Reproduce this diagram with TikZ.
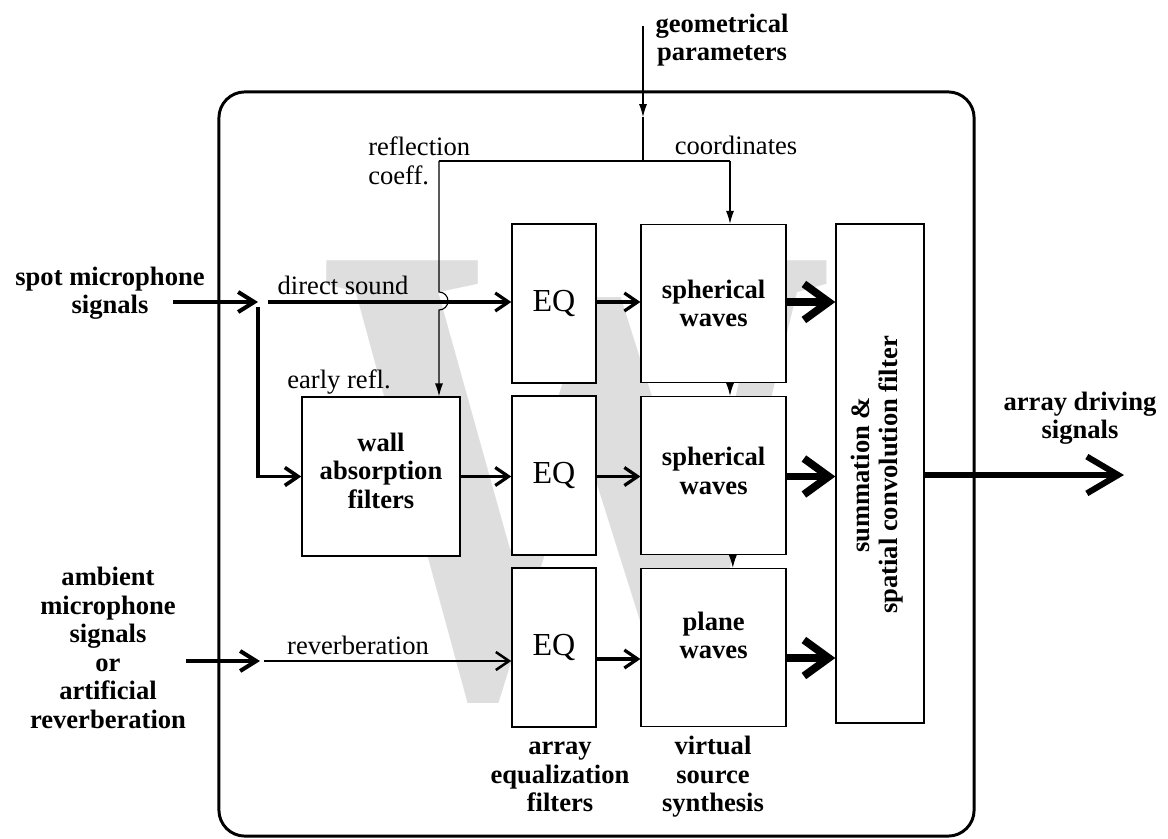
\documentclass[tikz,border=0pt]{standalone}
\usepackage{fontspec}
\setmainfont{Liberation Serif}
\usetikzlibrary{arrows.meta,positioning}

\begin{document}
\begin{tikzpicture}[x=0.025cm, y=-0.025cm]
\tikzstyle{box}=[draw, fill=white, line width=1pt, inner sep=0pt]
\tikzstyle{eqbox}=[box, minimum width=2.1cm, minimum height=3.975cm, font=\fontsize{22.8}{24}\selectfont, node distance=4.3cm]
\tikzstyle{wavebox}=[box, minimum width=3.625cm, minimum height=3.95cm, node distance=4.3cm]
\tikzstyle{txt}=[inner sep=0pt, font=\fontsize{18.9}{20.3}\selectfont]
\tikzstyle{btxt}=[inner sep=0pt, align=center, font=\fontsize{18.9}{20.3}\selectfont\bfseries]
\tikzstyle{ctrl}=[line width=0.8pt, -{Latex[length=0.32cm, width=0.2cm]}]
\tikzstyle{sig}=[line width=2.3pt, -{Straight Barb[length=0.33cm, width=0.45cm]}]
\tikzstyle{fat}=[line width=2.9pt, -{Straight Barb[length=0.4cm, width=0.5cm]}]
\tikzstyle{heavy}=[line width=5.5pt, -{Straight Barb[length=0.62cm, width=0.9cm]}]
\tikzstyle{drive}=[line width=4.3pt, -{Straight Barb[length=0.78cm, width=0.92cm]}]

\useasboundingbox (0,0) rectangle (1168,839);
\node[text=black!13, font=\fontsize{470}{470}\selectfont\bfseries, xscale=0.78, inner sep=0pt] (wmark) at (577,482) {W};
\node[draw, line width=2.1pt, rounded corners=0.65cm, minimum width=18.875cm, minimum height=18.6cm] (frame) at (596.5,464) {};

\node[eqbox] (EQa) at (554,303.5) {EQ};
\node[eqbox, below of=EQa] (EQb) {EQ};
\node[eqbox, below of=EQb] (EQc) {EQ};
\node[wavebox, right of=EQa, node distance=3.99cm] (SWa) {};
\node[wavebox, below of=SWa] (SWb) {};
\node[wavebox, below of=SWb] (PW) {};
\node[btxt] (SWatxt) at (SWa) {spherical\\waves};
\node[btxt] (SWbtxt) at ([yshift=0.12cm]SWb) {spherical\\waves};
\node[btxt] (PWtxt) at ([yshift=0.3cm]PW) {plane\\waves};
\node[box, minimum width=3.95cm, minimum height=3.975cm] (WA) at (381,476.5) {};
\node[btxt] (WAtxt) at ([yshift=0.15cm]WA) {wall\\absorption\\filters};
\node[box, minimum width=2.2cm, minimum height=12.475cm] (SC) at (880,473.5) {};
\node[btxt, rotate=90] (SClbl) at (877,475) {summation \&\\spatial convolution filter};

\node[btxt] (geo) at (722,40) {geometrical\\parameters};
\node[btxt] (spot) at (110,293) {spot microphone\\signals};
\node[btxt] (amb) at (108,648) {ambient\\microphone\\signals\\or\\artificial\\reverberation};
\node[btxt] (drv) at (1080,418) {array driving\\signals};
\node[btxt] (eqcap) at (560,777) {array\\equalization\\filters};
\node[btxt] (vscap) at (713,777) {virtual\\source\\synthesis};
\node[txt, align=left, anchor=west] (rcoef) at (368,161) {reflection\\coeff.};
\node[txt] (coord) at (736,145) {coordinates};
\node[txt] (dsnd) at (343,285) {direct sound};
\node[txt] (erefl) at (339,382) {early refl.};
\node[txt] (rev) at (358,645) {reverberation};

\coordinate (gtop) at (643,26);
\coordinate (gtip) at (643,117);
\coordinate (split) at (643,161);
\coordinate (rc) at (439,161);
\coordinate (co) at (730,161);
\coordinate (hop) at (439,292);
\coordinate (spotin) at (173,302);
\coordinate (fork) at (258,302);
\coordinate (ds) at (268,302);
\coordinate (branch) at (258,307);
\coordinate (ambin) at (186,661);
\coordinate (revin) at (260,661);
\coordinate (rv) at (264,661);
\coordinate (outtip) at (1124,475);

\draw[ctrl] (gtop) -- (gtip);
\draw[line width=0.8pt] (gtip) -- (split);
\draw[line width=0.8pt] (rc) -- (co);
\draw[ctrl] (co) -- (co |- SWa.north);
\draw[ctrl] (rc) -- (hop) arc[start angle=90, end angle=-90, radius=0.225cm] -- (rc |- WA.north);
\draw[ctrl] (SWa.south -| co) -- (SWb.north -| co);
\draw[ctrl] ([xshift=0.07cm]SWb.south -| co) -- ([xshift=0.07cm]PW.north -| co);

\draw[fat] (spotin) -- (fork);
\draw[sig] (ds) -- (EQa.west |- ds);
\draw[sig, line width=2.6pt] (branch) |- (WA.west);
\draw[sig] (WA.east) -- (EQb.west |- WA.east);
\draw[fat] (ambin) -- (revin);
\draw[sig, line width=1.8pt] (rv) -- (EQc.west |- rv);

\draw[sig] (EQa.east |- ds) -- (SWa.west |- ds);
\draw[sig] (EQb.east |- WA.east) -- (SWb.west |- WA.east);
\draw[sig] (EQc.east |- 0,659) -- (PW.west |- 0,659);

\draw[heavy] (SWa.east |- ds) -- (SC.west |- ds);
\draw[heavy] (SWb.east |- WA.east) -- (SC.west |- WA.east);
\draw[heavy] (PW.east |- 0,658) -- (SC.west |- 0,658);
\draw[drive] (SC.east |- outtip) -- (outtip);
\end{tikzpicture}
\end{document}
